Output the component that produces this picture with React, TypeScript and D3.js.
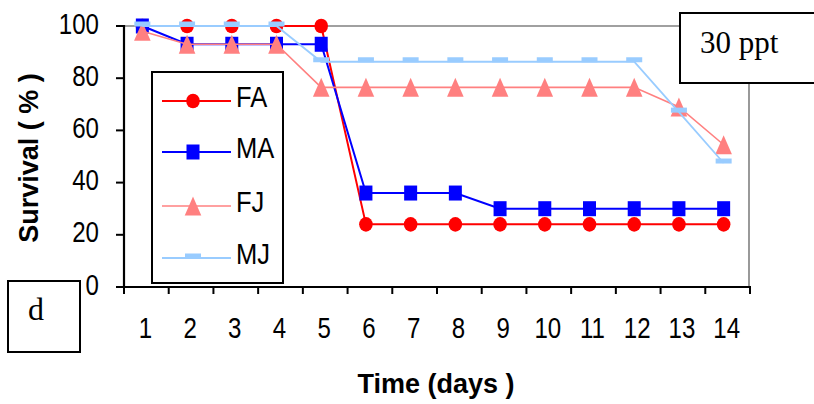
import React from "react";
import * as d3 from "d3";

const days = [1, 2, 3, 4, 5, 6, 7, 8, 9, 10, 11, 12, 13, 14];
const FA = [100, 100, 100, 100, 100, 24, 24, 24, 24, 24, 24, 24, 24, 24];
const MA = [100, 93, 93, 93, 93, 36, 36, 36, 30, 30, 30, 30, 30, 30];
const FJ = [98, 93, 93, 93, 76.5, 76.5, 76.5, 76.5, 76.5, 76.5, 76.5, 76.5, 69, 54.5];
const MJ = [100, 100, 100, 100, 86.3, 86.3, 86.3, 86.3, 86.3, 86.3, 86.3, 86.3, 67, 47.5];
const yTicks = [0, 20, 40, 60, 80, 100];
const seriesNames = ["FA", "MA", "FJ", "MJ"];

const W = 814;
const H = 404;
const L = 124, R = 749, T = 26, B = 287;

const colors: Record<string, string> = {
  FA: "#FF0000",
  MA: "#0000FF",
  FJ: "#FF8080",
  MJ: "#99CCFF",
};
const widths: Record<string, number> = { FA: 2, MA: 2, FJ: 1.6, MJ: 1.8 };

const sans = "'Liberation Sans', Arial, sans-serif";
const serif = "'Liberation Serif', 'Times New Roman', serif";

function Marker({ name, x, y }: { name: string; x: number; y: number }) {
  const c = colors[name];
  if (name === "FA") return <ellipse cx={x} cy={y} rx={6.8} ry={7.3} fill={c} />;
  if (name === "MA") return <rect x={x - 6.5} y={y - 7.5} width={13} height={15} fill={c} />;
  if (name === "FJ")
    return (
      <path
        d={`M${x},${y - 9.5} L${x + 8.3},${y + 9.5} L${x - 8.3},${y + 9.5} Z`}
        fill={c}
      />
    );
  return <rect x={x - 8} y={y - 4.5} width={16} height={5} fill={c} />;
}

export default function App() {
  const xBand = d3.scaleBand<number>().domain(days).range([L, 750]);
  const px = (d: number) => (xBand(d) as number) + xBand.bandwidth() / 2 - 4;
  const y = d3.scaleLinear().domain([0, 100]).range([B, T]);
  const data: Record<string, number[]> = { FA, MA, FJ, MJ };
  const line = d3
    .line<number>()
    .x((_, i) => px(days[i]))
    .y((v) => y(v));

  const boundaries = [...days.map((d) => xBand(d) as number), 750];
  const legendY = [101, 152, 206, 258];

  return (
    <svg
      width={W}
      height={H}
      style={{ position: "absolute", left: 0, top: 0, background: "#fff" }}
    >
      <rect x={0} y={0} width={W} height={H} fill="#fff" />
      {/* plot frame */}
      <line x1={L} y1={T} x2={R} y2={T} stroke="#808080" strokeWidth={1.6} />
      <line x1={R} y1={T} x2={R} y2={B} stroke="#808080" strokeWidth={1.6} />

      {/* series */}
      {seriesNames.map((n) => (
        <g key={n}>
          <path d={line(data[n]) || ""} fill="none" stroke={colors[n]} strokeWidth={widths[n]} />
          {data[n].map((v, i) => (
            <Marker key={i} name={n} x={px(days[i])} y={y(v)} />
          ))}
        </g>
      ))}

      {/* axes */}
      <line x1={L} y1={T - 1} x2={L} y2={B + 1} stroke="#000" strokeWidth={2.2} />
      <line x1={L - 1} y1={B} x2={751} y2={B} stroke="#000" strokeWidth={2.2} />
      {yTicks.map((t) => (
        <g key={t}>
          <line x1={L - 8} y1={y(t)} x2={L} y2={y(t)} stroke="#000" strokeWidth={2} />
          <text
            transform={`translate(99,${y(t) + 7.5}) scale(0.83,1)`}
            textAnchor="end"
            fontFamily={sans}
            fontSize={29}
            fill="#000"
          >
            {t}
          </text>
        </g>
      ))}
      {boundaries.map((bx, i) => (
        <line key={i} x1={bx} y1={B} x2={bx} y2={B + 7} stroke="#000" strokeWidth={2} />
      ))}
      {days.map((d) => (
        <text
          key={d}
          transform={`translate(${(xBand(d) as number) + xBand.bandwidth() / 2 - 1},338) scale(0.83,1)`}
          textAnchor="middle"
          fontFamily={sans}
          fontSize={29}
          fill="#000"
        >
          {d}
        </text>
      ))}

      {/* axis titles */}
      <text
        x={436}
        y={393}
        textAnchor="middle"
        fontFamily={sans}
        fontWeight="bold"
        fontSize={27}
        fill="#000"
      >
        Time (days )
      </text>
      <text
        transform="translate(38,158) rotate(-90)"
        textAnchor="middle"
        fontFamily={sans}
        fontWeight="bold"
        fontSize={27}
        fill="#000"
      >
        Survival ( % )
      </text>

      {/* legend */}
      <rect x={152} y={72} width={131} height={211} fill="#fff" stroke="#000" strokeWidth={2} />
      {seriesNames.map((n, i) => (
        <g key={n}>
          <line x1={162} y1={legendY[i]} x2={231} y2={legendY[i]} stroke={colors[n]} strokeWidth={widths[n]} />
          <Marker name={n} x={193} y={legendY[i]} />
          <text
            transform={`translate(236,${legendY[i] + 6}) scale(0.88,1)`}
            fontFamily={sans}
            fontSize={29}
            fill="#000"
          >
            {n}
          </text>
        </g>
      ))}

      {/* annotation boxes */}
      <rect x={680} y={13} width={140} height={70} fill="#fff" stroke="#000" strokeWidth={2} />
      <text x={700} y={53} fontFamily={serif} fontSize={31} fill="#000">
        30 ppt
      </text>
      <rect x={8} y={281} width={72} height={71} fill="#fff" stroke="#000" strokeWidth={2} />
      <text x={28} y={320} fontFamily={serif} fontSize={32} fill="#000">
        d
      </text>
    </svg>
  );
}
